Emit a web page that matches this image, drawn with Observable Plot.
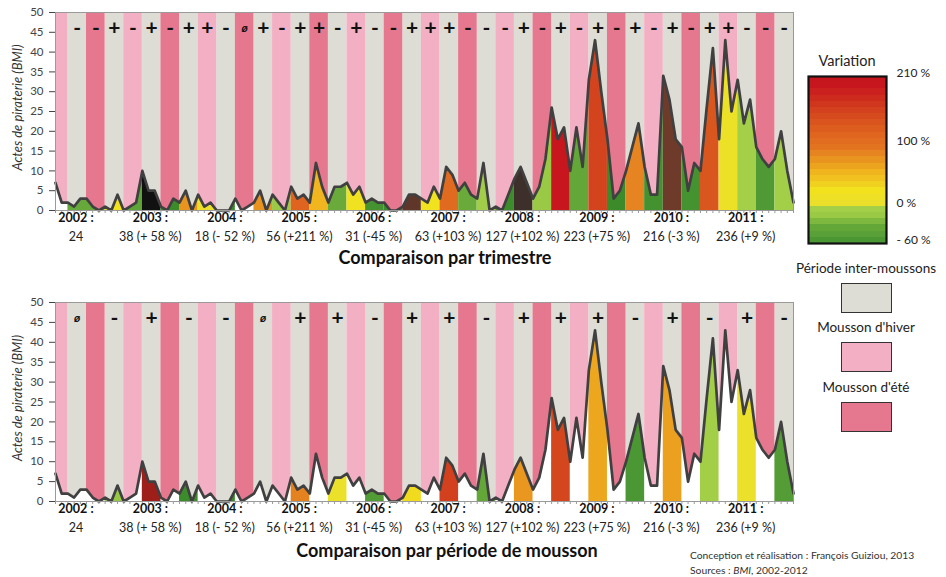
<!DOCTYPE html>
<html><head><meta charset="utf-8">
<script src="https://cdn.jsdelivr.net/npm/d3@7"></script>
<script src="https://cdn.jsdelivr.net/npm/@observablehq/plot@0.6"></script>
<style>
body{margin:0;background:#fff;font-family:Lato,"Open Sans",sans-serif;}
#root{position:relative;width:946px;height:577px;overflow:hidden;background:#fff;}
.abs{position:absolute;}
.title{font-weight:bold;font-size:18px;line-height:22px;text-align:center;color:#111;}
.leg{font-size:13.5px;line-height:18px;text-align:center;color:#222;}
.box{border:1.5px solid #333;box-sizing:border-box;width:51px;height:30px;}
</style></head>
<body><div id="root"></div>
<script>
// ---- Data ----
const years = [2002, 2003, 2004, 2005, 2006, 2007, 2008, 2009, 2010, 2011];
const acts2002 = [7, 2, 2, 1, 3, 3, 1, 0, 1, 0, 4, 0];
const acts2003 = [1, 2, 10, 5, 5, 1, 0, 3, 2, 5, 0, 4];
const acts2004 = [1, 2, 0, 0, 0, 3, 0, 1, 2, 5, 0, 4];
const acts2005 = [2, 0, 6, 3, 4, 2, 12, 6, 2, 6, 6, 7];
const acts2006 = [4, 6, 2, 3, 2, 2, 0, 0, 1, 4, 4, 3];
const acts2007 = [2, 6, 3, 11, 9, 5, 7, 4, 3, 12, 0, 1];
const acts2008 = [0, 4, 8, 11, 7, 3, 6, 13, 26, 18, 21, 10];
const acts2009 = [21, 11, 33, 43, 30, 18, 3, 5, 10, 16, 22, 11];
const acts2010 = [4, 4, 34, 28, 18, 16, 5, 12, 10, 26, 41, 18];
const acts2011 = [43, 25, 33, 22, 28, 16, 13, 11, 13, 20, 10, 2];
const yearTotals = [24, 38, 18, 56, 31, 63, 127, 223, 216, 236];
const yearChanges = ["", " (+ 58 %)", " (- 52 %)", " (+211 %)", " (-45 %)", " (+103 %)", " (+102 %)", " (+75 %)", " (-3 %)", " (+9 %)"];
// quarter-over-quarter variation (%) per season period, estimated from the colours
const variationTrimestre = [null, -33, -33, 25, -40, 567, -80, 75, 5, -100, null, 75, -14, 117, 54, -30, 21, -59, -71, 350, 22, 109, -30, -6, -67, 420, -15, 195, -35, 152, -75, 85, -60, 321, -59, 133, 12, -3, -52, -5];
const signsTrimestre = ["", "-", "-", "+", "-", "+", "-", "+", "+", "-", "ø", "+", "-", "+", "+", "-", "+", "-", "-", "+", "+", "+", "-", "-", "-", "+", "-", "+", "-", "+", "-", "+", "-", "+", "-", "+", "+", "-", "-", "-"];
// inter-monsoon periods compared with the previous inter-monsoon period
const variationMousson = [null, -17, 300, -65, -100, null, 86, 8, -50, 29, 156, -35, 73, 150, 63, -55, 67, -4, 8, -48];
const signsMousson = ["ø", "-", "+", "-", "-", "ø", "+", "+", "-", "+", "+", "-", "+", "+", "+", "-", "+", "-", "+", "-"];
const legendTicks = [-60, 0, 100, 210];

// ---- Structure ----
const acts = [acts2002, acts2003, acts2004, acts2005, acts2006, acts2007, acts2008, acts2009, acts2010, acts2011].flat();
const months = acts.map((v, i) => ({i, v}));
const nMonths = acts.length;
const bands = d3.range(40).map(k => {
  const start = k === 0 ? 0 : 3 * k - 1;
  const end = Math.min(3 * k + 2, nMonths - 1);
  const season = k === 0 ? "hiver" : ["inter", "ete", "inter", "hiver"][(k - 1) % 4];
  return {k, start, end, mid: (start + end) / 2, season};
});
const seasonColor = {inter: "#dddcd5", hiver: "#f3b0c5", ete: "#e5788e"};

const colorDomain = [-100, -65, -52, -40, -30, -20, -1, 0, 25, 40, 55, 75, 95, 120, 150, 195, 210, 300, 320, 420, 560];
const colorRange = ["#3a8a2a", "#3c8c2c", "#4f9a35", "#5ea438", "#6aaa3a", "#94c644", "#a6d049", "#e8e030", "#f2e21e", "#f0c81f", "#f0b41f", "#e8941f", "#e27420", "#df621f", "#d4461e", "#c8161e", "#c4161c", "#9e1f1a", "#6e3a2a", "#3d2f2a", "#111111"];
const colorOpts = {type: "linear", domain: colorDomain, range: colorRange, clamp: true};

const topBands = bands.map(b => ({...b, variation: variationTrimestre[b.k], sign: signsTrimestre[b.k]}));
const interBands = bands.filter(b => b.k % 2 === 1).map((b, p) => ({...b, variation: variationMousson[p], sign: signsMousson[p]}));

function chart(infoBands, marginBottom) {
  const fillBands = infoBands.filter(b => b.variation != null);
  const rows = fillBands.flatMap(b => d3.range(b.start, b.end + 1).map(i => ({i, v: acts[i], k: b.k, variation: b.variation})));
  const yearX = (d, j) => 12 * j + 3.3;
  return Plot.plot({
    width: 800, height: 250,
    marginLeft: 55, marginRight: 7, marginTop: 12, marginBottom,
    x: {domain: [0, nMonths - 1]},
    y: {domain: [0, 50]},
    color: colorOpts,
    style: {fontFamily: "Lato, 'Open Sans', sans-serif", fontSize: "11px", color: "#333", background: "none", overflow: "visible"},
    marks: [
      ...["inter", "hiver", "ete"].map(s => Plot.rect(bands.filter(b => b.season === s), {x1: "start", x2: "end", y1: 0, y2: 50, fill: seasonColor[s]})),
      Plot.area(months, {x1: "i", y1: 0, y2: "v", fill: "white"}),
      Plot.area(rows, {x1: "i", y1: 0, y2: "v", z: "k", fill: "variation"}),
      Plot.line(months, {x: "i", y: "v", stroke: "#404040", strokeWidth: 2.7, strokeLinejoin: "round"}),
      Plot.text(infoBands.filter(b => b.sign === "+" || b.sign === "-"), {x: "mid", y: 46, text: "sign", fontSize: 21, fontWeight: "bold", fill: "#111"}),
      Plot.text(infoBands.filter(b => b.sign === "ø"), {x: "mid", y: 46, text: "sign", fontSize: 12, fontWeight: "bold", fontStyle: "italic", fill: "#111"}),
      Plot.frame({stroke: "#9a9a9a"}),
      Plot.axisY({ticks: d3.range(0, 51, 5), tickSize: 6, tickPadding: 6, fontSize: 11.5, color: "#444", label: null}),
      Plot.axisX({ticks: d3.range(0, nMonths), tickSize: 3, tickFormat: () => "", stroke: "#999", label: null}),
      Plot.text(years, {x: yearX, frameAnchor: "bottom", dy: 11, text: d => d + " :", fontWeight: "bold", fontSize: 12.5, fill: "#111"}),
      Plot.text(years, {x: yearX, frameAnchor: "bottom", dy: 30, text: (d, j) => yearTotals[j] + yearChanges[j], fontSize: 12.5, fill: "#222"}),
      Plot.text(["Actes de piraterie (BMI)"], {frameAnchor: "left", textAnchor: "middle", dx: -38, dy: -4, rotate: -90, fontStyle: "italic", fontSize: 13, fill: "#333"})
    ]
  });
}

function legendBar() {
  const steps = d3.range(-60, 210, 10);
  return Plot.plot({
    width: 146, height: 186, marginLeft: 8, marginRight: 60, marginTop: 10, marginBottom: 9,
    x: {domain: [0, 1], axis: null},
    y: {domain: [-60, 210]},
    color: colorOpts,
    style: {fontFamily: "Lato, 'Open Sans', sans-serif", fontSize: "12px", color: "#222", background: "none", overflow: "visible"},
    marks: [
      Plot.rect(steps, {x1: 0, x2: 1, y1: d => d, y2: d => d + 10, fill: d => d + 5, shapeRendering: "crispEdges"}),
      Plot.frame({stroke: "#111", strokeWidth: 2.2}),
      Plot.axisY({anchor: "right", ticks: legendTicks, tickSize: 0, tickPadding: 10, dy: -3, fontSize: 12, label: null,
        tickFormat: d => d < 0 ? "- " + (-d) + " %" : d + " %"})
    ]
  });
}

const root = document.getElementById("root");
function place(el, left, top) {
  const d = document.createElement("div");
  d.className = "abs";
  d.style.left = left + "px"; d.style.top = top + "px";
  d.appendChild(el);
  root.appendChild(d);
  return d;
}
function html(str, left, top, width, cls, extra) {
  const d = document.createElement("div");
  d.className = "abs " + (cls || "");
  d.style.left = left + "px"; d.style.top = top + "px";
  if (width) d.style.width = width + "px";
  if (extra) Object.assign(d.style, extra);
  d.innerHTML = str;
  root.appendChild(d);
  return d;
}

place(chart(topBands, 40), 0, 0);
place(chart(interBands, 39), 0, 290);
html("Comparaison par trimestre", 0, 246, 890, "title");
html("Comparaison par période de mousson", 0, 539, 894, "title");

place(legendBar(), 800, 66);
html("Variation", 787, 52, 120, "leg", {fontSize: "14.5px"});
html("Période inter-moussons", 786, 259, 160, "leg");
html("", 841, 283, null, "box", {background: seasonColor.inter});
html("Mousson d'hiver", 786, 318, 160, "leg");
html("", 841, 342, null, "box", {background: seasonColor.hiver});
html("Mousson d'été", 786, 378, 160, "leg");
html("", 841, 402, null, "box", {background: seasonColor.ete});

html("Conception et réalisation : François Guiziou, 2013<br>Sources : <i>BMI</i>, 2002-2012", 690, 548, 270, "", {fontSize: "10.3px", lineHeight: "15px", color: "#333"});
</script>
</body></html>
